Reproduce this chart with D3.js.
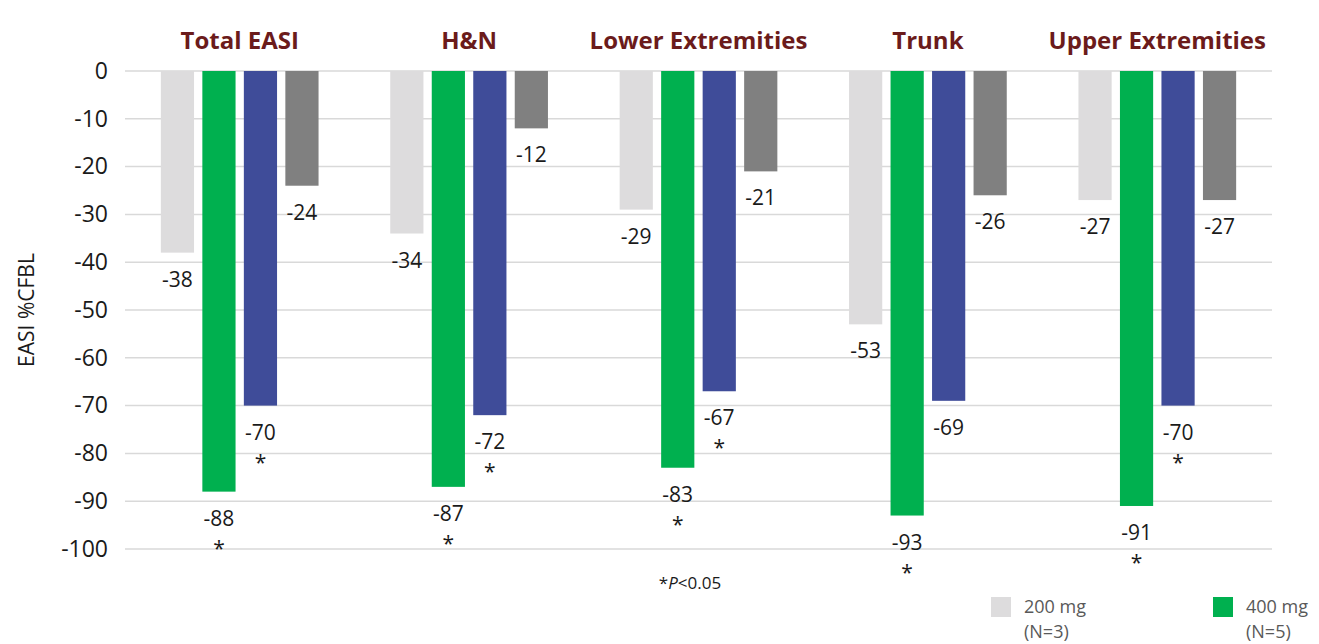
<!DOCTYPE html>
<html lang="en">
<head>
    <meta charset="UTF-8">
    <title>EASI %CFBL by region</title>
    <script src="https://d3js.org/d3.v7.min.js"></script>
    <style>
        body {
            margin: 0;
            background: #fff;
        }
        svg {
            display: block;
            font-family: "Open Sans", "Noto Sans", sans-serif;
        }
    </style>
</head>
<body>
    <div id="chart-container"></div>

    <script>
        // chart data
        const regions = ["Total EASI", "H&N", "Lower Extremities", "Trunk", "Upper Extremities"];
        const series = ["200 mg", "400 mg", "s3", "s4"];
        const seriesColors = ["#dddcdd", "#00b04f", "#3f4c99", "#808080"];
        const values200 = [-38, -34, -29, -53, -27];
        const values400 = [-88, -87, -83, -93, -91];
        const valuesS3 = [-70, -72, -67, -69, -70];
        const valuesS4 = [-24, -12, -21, -26, -27];
        // significance markers (*P<0.05)
        const sig200 = [false, false, false, false, false];
        const sig400 = [true, true, true, true, true];
        const sigS3 = [true, true, true, false, true];
        const sigS4 = [false, false, false, false, false];
        const yTicks = [0, -10, -20, -30, -40, -50, -60, -70, -80, -90, -100];
        const legendItems = [
            {name: "200 mg", n: "(N=3)", color: "#dddcdd"},
            {name: "400 mg", n: "(N=5)", color: "#00b04f"}
        ];

        const allValues = [values200, values400, valuesS3, valuesS4];
        const allSig = [sig200, sig400, sigS3, sigS4];

        const rows = [];
        regions.forEach((r, i) => {
            series.forEach((s, j) => {
                rows.push({region: r, series: s, value: allValues[j][i], sig: allSig[j][i], color: seriesColors[j]});
            });
        });

        const W = 1319, H = 644;
        const plot = {left: 125, right: 1272, top: 71, bottom: 549};

        const svg = d3.select("#chart-container").append("svg")
            .attr("width", W)
            .attr("height", H);

        const x0 = d3.scaleBand()
            .domain(regions)
            .range([plot.left, plot.right])
            .padding(0);

        const groupWidth = 166;
        const x1 = d3.scaleBand()
            .domain(series)
            .range([0, groupWidth])
            .paddingInner(0.2)
            .paddingOuter(0.1);

        const y = d3.scaleLinear()
            .domain([-100, 0])
            .range([plot.bottom, plot.top]);

        // gridlines
        svg.append("g")
            .selectAll("line")
            .data(yTicks)
            .enter().append("line")
            .attr("x1", plot.left)
            .attr("x2", plot.right)
            .attr("y1", d => y(d))
            .attr("y2", d => y(d))
            .attr("stroke", "#d9d9d9")
            .attr("stroke-width", 1.5);

        // y axis (labels only) - plain hyphen like the original
        const yAxis = svg.append("g")
            .attr("transform", `translate(${plot.left}, 0)`)
            .call(d3.axisLeft(y).tickValues(yTicks).tickSize(0).tickPadding(17).tickFormat(d => String(d)));
        yAxis.select(".domain").remove();
        yAxis.selectAll("text")
            .attr("fill", "#1a1a1a")
            .style("font-size", "23px")
            .style("font-family", "'Open Sans', sans-serif");

        // y axis title
        svg.append("text")
            .attr("transform", `translate(34, ${(plot.top + plot.bottom) / 2}) rotate(-90)`)
            .attr("text-anchor", "middle")
            .attr("fill", "#1a1a1a")
            .style("font-size", "21px")
            .text("EASI %CFBL");

        // region headers
        svg.append("g")
            .selectAll("text")
            .data(regions)
            .enter().append("text")
            .attr("x", d => x0(d) + x0.bandwidth() / 2)
            .attr("y", 49)
            .attr("text-anchor", "middle")
            .attr("fill", "#6b1b1b")
            .style("font-size", "24px")
            .style("font-weight", "bold")
            .text(d => d);

        const barX = d => x0(d.region) + (x0.bandwidth() - groupWidth) / 2 + x1(d.series);

        // bars
        svg.append("g")
            .selectAll("rect")
            .data(rows)
            .enter().append("rect")
            .attr("x", barX)
            .attr("width", x1.bandwidth())
            .attr("y", y(0))
            .attr("height", d => y(d.value) - y(0))
            .attr("fill", d => d.color);

        // value labels
        svg.append("g")
            .selectAll("text")
            .data(rows)
            .enter().append("text")
            .attr("x", d => barX(d) + x1.bandwidth() / 2)
            .attr("y", d => y(d.value) + 34)
            .attr("text-anchor", "middle")
            .attr("fill", "#1a1a1a")
            .style("font-size", "21px")
            .text(d => d.value);

        // asterisks
        svg.append("g")
            .selectAll("text")
            .data(rows.filter(d => d.sig))
            .enter().append("text")
            .attr("x", d => barX(d) + x1.bandwidth() / 2)
            .attr("y", d => y(d.value) + 64)
            .attr("text-anchor", "middle")
            .attr("fill", "#1a1a1a")
            .style("font-size", "21px")
            .text("*");

        // footnote
        const foot = svg.append("text")
            .attr("x", 690)
            .attr("y", 589)
            .attr("text-anchor", "middle")
            .attr("fill", "#1a1a1a")
            .style("font-size", "17px");
        foot.append("tspan").text("*");
        foot.append("tspan").style("font-style", "italic").text("P");
        foot.append("tspan").text("<0.05");

        // legend
        const legend = svg.append("g")
            .selectAll("g")
            .data(legendItems)
            .enter().append("g")
            .attr("transform", (d, i) => `translate(${991 + i * 222}, 597)`);
        legend.append("rect")
            .attr("width", 20)
            .attr("height", 20)
            .attr("fill", d => d.color);
        legend.append("text")
            .attr("x", 33)
            .attr("y", 16)
            .attr("fill", "#595959")
            .style("font-size", "18px")
            .text(d => d.name);
        legend.append("text")
            .attr("x", 33)
            .attr("y", 41)
            .attr("fill", "#595959")
            .style("font-size", "18px")
            .text(d => d.n);
    </script>
</body>
</html>
